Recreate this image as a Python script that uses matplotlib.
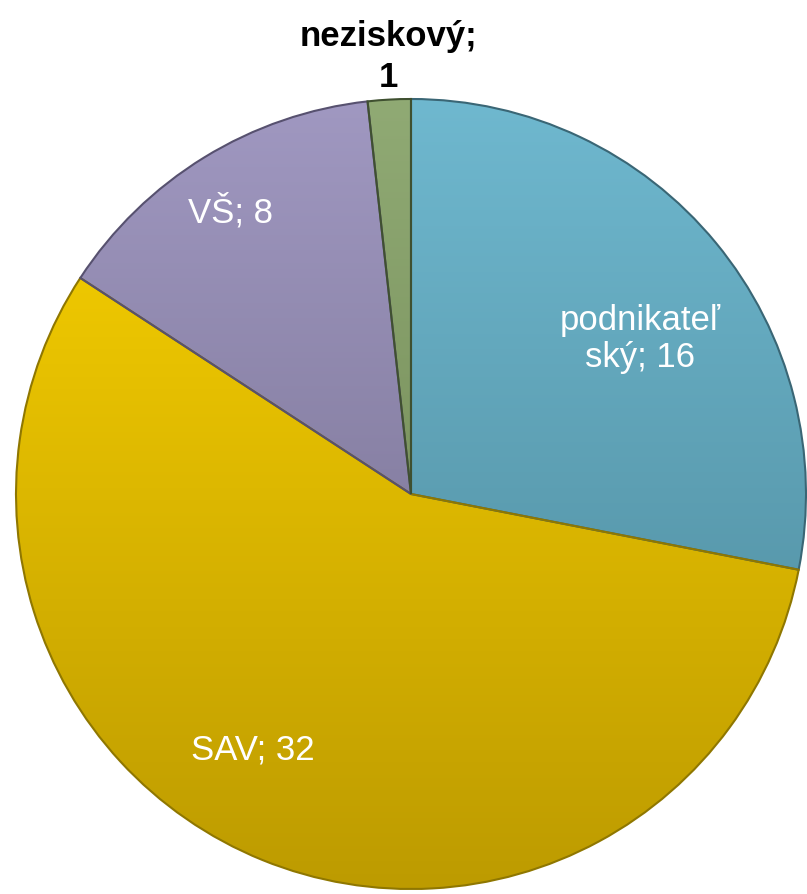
import matplotlib
matplotlib.use("Agg")
import matplotlib.pyplot as plt
import numpy as np
from matplotlib.colors import LinearSegmentedColormap

categories = ["podnikateľský", "SAV", "VŠ", "neziskový"]
values = [16, 32, 8, 1]
label_texts = ["podnikateľ\nský; 16", "SAV; 32", "VŠ; 8", "neziskový;\n1"]
top_colors = ["#6fb8cf", "#fcd400", "#a098c1", "#90aa74"]
bot_colors = ["#4a8596", "#bd9b00", "#6f6987", "#687f4c"]
edge_colors = ["#3a6675", "#8f7700", "#57516f", "#3f5030"]

plt.rcParams['font.family'] = ['Liberation Sans', 'DejaVu Sans']

W, H = 807, 895
fig = plt.figure(figsize=(W / 100, H / 100), dpi=100)
ax = fig.add_axes([0, 0, 1, 1])

cx, cy, R = 411, H - 495, 395
wedges, _ = ax.pie(values, startangle=90, counterclock=False, radius=R,
                   center=(cx, cy), colors=top_colors,
                   wedgeprops=dict(linewidth=1.5))

for w, tc, bc, ec in zip(wedges, top_colors, bot_colors, edge_colors):
    w.set_edgecolor(ec)
    cmap = LinearSegmentedColormap.from_list("g", [bc, tc])
    grad = np.linspace(0, 1, 256).reshape(-1, 1)
    im = ax.imshow(grad, cmap=cmap, origin="lower", aspect="auto",
                   extent=(cx - R, cx + R, cy - R, cy + R), zorder=1.5)
    im.set_clip_path(w)
    w.set_zorder(2)
    w.set_facecolor("none")

ax.set_xlim(0, W)
ax.set_ylim(0, H)
ax.set_aspect("equal")
ax.axis("off")

label_pos = [(640, H - 339), (253, H - 750), (230, H - 212), (388, H - 57)]
label_colors = ["white", "white", "white", "black"]
label_weights = ["normal", "normal", "normal", "bold"]
label_spacing = [1.15, 1.15, 1.15, 1.3]
for txt, (x, y), c, wgt, ls in zip(label_texts, label_pos, label_colors,
                                   label_weights, label_spacing):
    ax.text(x, y, txt, ha="center", va="center", fontsize=25, color=c,
            fontweight=wgt, linespacing=ls, zorder=5)

fig.savefig("out.png", dpi=100)
